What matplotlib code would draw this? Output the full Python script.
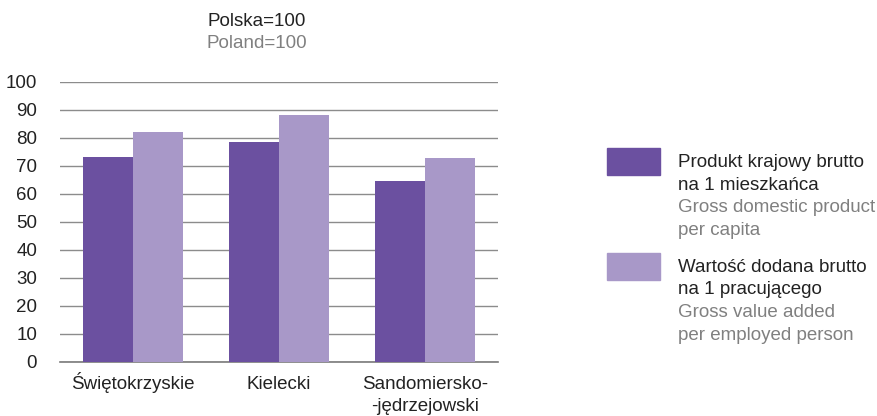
import matplotlib
matplotlib.use("Agg")
import matplotlib.pyplot as plt
import numpy as np
from matplotlib.patches import Rectangle

plt.rcParams['font.family'] = ['Liberation Sans', 'DejaVu Sans']

categories = ["Świętokrzyskie", "Kielecki", "Sandomiersko-\n-jędrzejowski"]
gdp_per_capita = [73.2, 78.6, 64.6]
gva_per_employed = [82.1, 88.3, 72.9]
yticks = list(range(0, 101, 10))

dark = "#6b50a0"
light = "#a898c8"
W, H = 877, 416
FS = 13.5

fig = plt.figure(figsize=(W / 100, H / 100), dpi=100)
ax = fig.add_axes([60 / W, 1 - 362 / H, 438 / W, 280 / H])

x = np.arange(len(categories))
bw = 0.342
ax.bar(x - bw / 2, gdp_per_capita, bw, color=dark, zorder=3)
ax.bar(x + bw / 2, gva_per_employed, bw, color=light, zorder=3)

ax.set_xlim(-0.5, len(categories) - 0.5)
ax.set_ylim(0, 100)
ax.set_yticks(yticks)
ax.set_yticklabels([str(t) for t in yticks])
ax.set_xticks(x)
ax.set_xticklabels([])
ax.tick_params(axis='both', length=0, labelsize=FS, colors="#222222")
ax.tick_params(axis='y', pad=16.5)
ax.yaxis.grid(True, color="#8c8c8c", linewidth=1.0, zorder=0)
ax.set_axisbelow(True)
for s in ['left', 'right', 'top']:
    ax.spines[s].set_visible(False)
ax.spines['bottom'].set_color("#7a7a7a")
ax.spines['bottom'].set_linewidth(1.2)

# category labels, one line at a time on fixed baselines
tr = ax.get_xaxis_transform()
for xi, cat in zip(x, categories):
    for j, line in enumerate(cat.split("\n")):
        ax.text(xi, (362 - (389 + 22 * j)) / 280, line, transform=tr, ha='center', va='baseline',
                fontsize=FS, color="#222222", clip_on=False)

fig.text(257 / W, 1 - 26 / H, "Polska=100", ha='center', va='baseline', fontsize=FS, color="#222222")
fig.text(257 / W, 1 - 48 / H, "Poland=100", ha='center', va='baseline', fontsize=FS, color="#808080")

# legend
fig.patches.append(Rectangle((607 / W, 1 - 175 / H), 53 / W, 27 / H, transform=fig.transFigure, color=dark, figure=fig))
fig.patches.append(Rectangle((607 / W, 1 - 280 / H), 53 / W, 27 / H, transform=fig.transFigure, color=light, figure=fig))
leg1 = [("Produkt krajowy brutto", "#222222"), ("na 1 mieszkańca", "#222222"),
        ("Gross domestic product", "#808080"), ("per capita", "#808080")]
leg2 = [("Wartość dodana brutto", "#222222"), ("na 1 pracującego", "#222222"),
        ("Gross value added", "#808080"), ("per employed person", "#808080")]
for start, lines in ((167, leg1), (272, leg2)):
    for i, (t, c) in enumerate(lines):
        fig.text(678 / W, 1 - (start + 22.5 * i) / H, t, ha='left', va='baseline', fontsize=FS, color=c)

fig.savefig("out.png", dpi=100, facecolor="white")
